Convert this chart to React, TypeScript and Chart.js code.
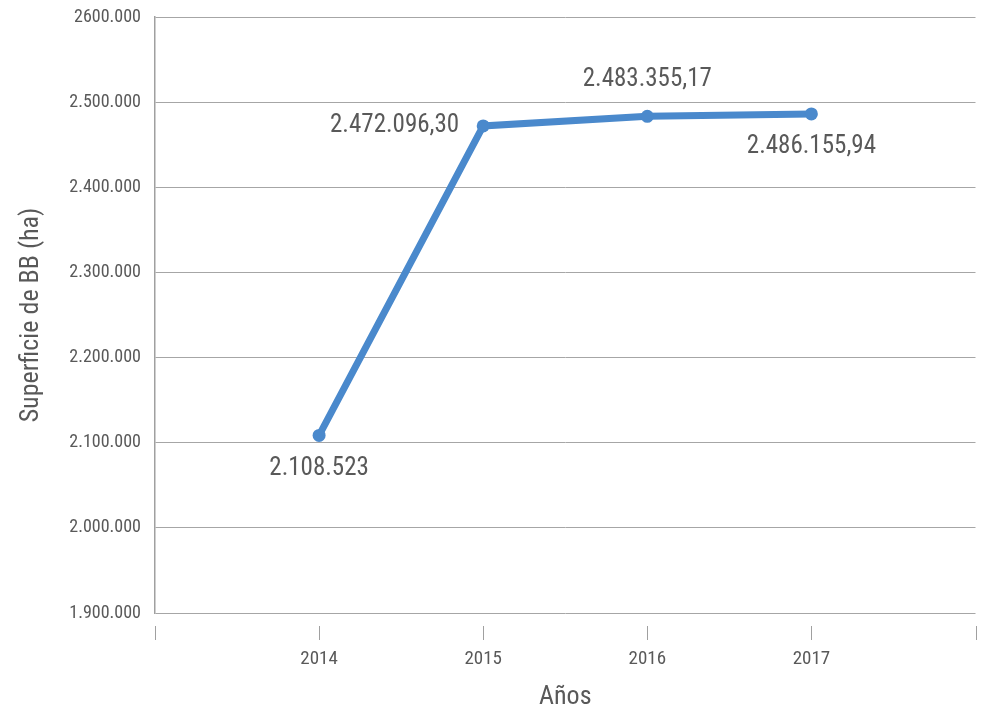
import React, { useEffect, useRef } from "react";
import { Chart, registerables } from "chart.js";

Chart.register(...registerables);

const years = [2014, 2015, 2016, 2017];
const superficie = [2108523, 2472096.3, 2483355.17, 2486155.94];
const pointLabels = ["2.108.523", "2.472.096,30", "2.483.355,17", "2.486.155,94"];
const labelPlacement = ["below", "left", "above", "below"];
const yTickLabels = ["1.900.000", "2.000.000", "2.100.000", "2.200.000", "2.300.000", "2.400.000", "2.500.000", "2600.000"];

const FONT = "'Roboto Condensed', 'Liberation Sans Narrow', Roboto, sans-serif";
const TEXT = "#595959";
const LINE = "#4a89cc";

const tickMarks = {
  id: "tickMarks",
  afterDraw(chart: any) {
    const x = chart.scales.x;
    const bottom = chart.chartArea.bottom;
    const ctx = chart.ctx;
    ctx.save();
    ctx.strokeStyle = "#a0a0a0";
    ctx.lineWidth = 1;
    x.ticks.forEach((t: any) => {
      const px = Math.round(x.getPixelForValue(t.value)) + 0.5;
      ctx.beginPath();
      ctx.moveTo(px, bottom + 13);
      ctx.lineTo(px, bottom + 27);
      ctx.stroke();
    });
    ctx.restore();
  },
};

const dataLabels = {
  id: "dataLabels",
  afterDatasetsDraw(chart: any) {
    const meta = chart.getDatasetMeta(0);
    const ctx = chart.ctx;
    ctx.save();
    ctx.font = `25px ${FONT}`;
    ctx.fillStyle = TEXT;
    ctx.textBaseline = "middle";
    meta.data.forEach((el: any, i: number) => {
      const p = labelPlacement[i];
      let x = el.x;
      let y = el.y;
      ctx.textAlign = "center";
      if (p === "below") y += 33;
      else if (p === "above") y -= 37;
      else if (p === "left") {
        ctx.textAlign = "right";
        x -= 24;
      }
      ctx.fillText(pointLabels[i], x, y);
    });
    ctx.restore();
  },
};

export default function App() {
  const ref = useRef<HTMLCanvasElement>(null);
  useEffect(() => {
    if (!ref.current) return;
    const chart = new Chart(ref.current, {
      type: "line",
      data: {
        datasets: [
          {
            data: years.map((y, i) => ({ x: y, y: superficie[i] })),
            borderColor: LINE,
            backgroundColor: LINE,
            borderWidth: 7,
            pointRadius: 6.5,
            pointHoverRadius: 6.5,
            pointBorderWidth: 0,
            tension: 0,
          },
        ],
      },
      options: {
        animation: false,
        responsive: true,
        maintainAspectRatio: false,
        layout: { padding: { top: 17, right: -2, left: 0, bottom: 0 } },
        plugins: { legend: { display: false }, tooltip: { enabled: false } },
        scales: {
          x: {
            type: "linear",
            min: 2013,
            max: 2018,
            afterFit: (s: any) => {
              s.height = 97;
              s.paddingLeft = 0;
              s.paddingRight = 0;
            },
            ticks: {
              stepSize: 1,
              autoSkip: false,
              padding: 35,
              color: TEXT,
              font: { family: FONT, size: 19 },
              callback: (v: any) => (years.includes(Number(v)) ? String(v) : ""),
            },
            grid: { display: false, drawTicks: false },
            border: { display: false },
            title: {
              display: true,
              text: "Años",
              color: TEXT,
              font: { family: FONT, size: 26, lineHeight: 1 },
              padding: { top: 0, bottom: 0 },
            },
          },
          y: {
            min: 1900000,
            max: 2600000,
            afterFit: (s: any) => {
              s.width = 155;
              s.paddingTop = 0;
              s.paddingBottom = 0;
            },
            ticks: {
              stepSize: 100000,
              padding: 14,
              color: TEXT,
              font: { family: FONT, size: 18 },
              callback: (_v: any, i: number) => yTickLabels[i],
            },
            grid: { color: "#a6a6a6", drawTicks: false, lineWidth: 1 },
            border: { display: true, color: "#a0a0a0", width: 1.5 },
            title: {
              display: true,
              text: "Superficie de BB (ha)",
              color: TEXT,
              font: { family: FONT, size: 26, lineHeight: 1.2 },
              padding: { top: 16, bottom: 0 },
            },
          },
        },
      },
      plugins: [tickMarks, dataLabels],
    });
    return () => chart.destroy();
  }, []);
  return (
    <div style={{ position: "fixed", left: 0, top: 0, width: 982, height: 710, background: "#fff" }}>
      <canvas ref={ref} />
    </div>
  );
}
